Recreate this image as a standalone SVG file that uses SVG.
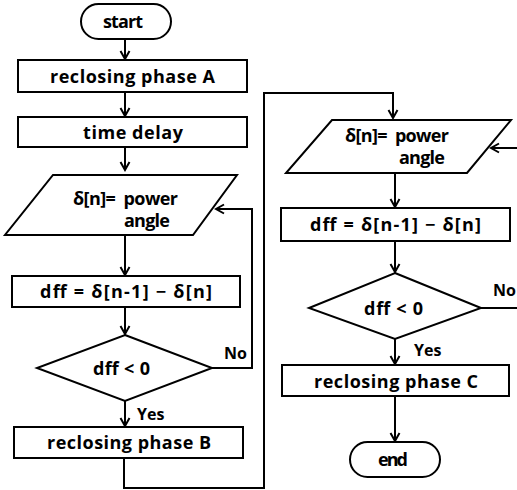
<svg xmlns="http://www.w3.org/2000/svg" width="517" height="490" viewBox="0 0 517 490">
<defs>
<marker id="arr" markerWidth="12" markerHeight="12" refX="10" refY="6" orient="auto" markerUnits="userSpaceOnUse">
<path d="M2,1.5 L10,6 L2,10.5" fill="none" stroke="#000" stroke-width="2"/>
</marker>
</defs>
<style>
.s{fill:#fff;stroke:#000;stroke-width:2}
.t{font-family:"Open Sans","Noto Sans",sans-serif;font-weight:bold;font-size:18px;fill:#000;dominant-baseline:central}
.l{font-family:"Open Sans","Noto Sans",sans-serif;font-weight:bold;font-size:16px;fill:#000;dominant-baseline:central}
.c{fill:none;stroke:#000;stroke-width:2}
</style>
<rect width="517" height="490" fill="#fff"/>
<g id="start"><rect class="s" x="81" y="4" width="90" height="35" rx="17.5"/><text class="t" x="103" y="21" textLength="40" lengthAdjust="spacing">start</text></g>
<g id="phaseA"><rect class="s" x="18" y="60" width="229" height="32"/><text class="t" x="50" y="76" textLength="165" lengthAdjust="spacing">reclosing phase A</text></g>
<g id="delay"><rect class="s" x="18" y="117" width="229" height="30"/><text class="t" x="83" y="132" textLength="100" lengthAdjust="spacing">time delay</text></g>
<g id="input1"><polygon class="s" points="53,175 237,175 193,235 5,235"/><text class="t" x="73" y="198" textLength="105" lengthAdjust="spacing" xml:space="preserve">δ[n]=  power</text><text class="t" x="124" y="220" textLength="46" lengthAdjust="spacing">angle</text></g>
<g id="dff1"><rect class="s" x="12" y="276" width="228" height="31"/><text class="t" x="40" y="291" textLength="172" lengthAdjust="spacing">dff = δ[n-1] − δ[n]</text></g>
<g id="dec1"><polygon class="s" points="125,335 212,368 125,401 37,368"/><text class="t" x="93" y="368" textLength="57" lengthAdjust="spacing" xml:space="preserve">dff &lt; 0</text></g>
<g id="phaseB"><rect class="s" x="14" y="427" width="229" height="31"/><text class="t" x="47" y="442" textLength="164" lengthAdjust="spacing">reclosing phase B</text></g>
<g id="input2"><polygon class="s" points="332,120 511,120 467,173 286,173"/><text class="t" x="345" y="135" textLength="104" lengthAdjust="spacing" xml:space="preserve">δ[n]=  power</text><text class="t" x="399" y="157" textLength="46" lengthAdjust="spacing">angle</text></g>
<g id="dff2"><rect class="s" x="281" y="208" width="229" height="33"/><text class="t" x="310" y="224" textLength="171" lengthAdjust="spacing">dff = δ[n-1] − δ[n]</text></g>
<g id="dec2"><polygon class="s" points="395,273 481,308 395,339 309,308"/><text class="t" x="364" y="308" textLength="59" lengthAdjust="spacing" xml:space="preserve">dff &lt; 0</text></g>
<g id="phaseC"><rect class="s" x="282" y="365" width="227" height="31"/><text class="t" x="314" y="381" textLength="164" lengthAdjust="spacing">reclosing phase C</text></g>
<g id="end"><rect class="s" x="350" y="442" width="90" height="35" rx="17.5"/><text class="t" x="378" y="459" textLength="30" lengthAdjust="spacing">end</text></g>
<g id="connectors">
<line class="c" x1="125" y1="39" x2="125" y2="59" marker-end="url(#arr)"/>
<line class="c" x1="125" y1="92" x2="125" y2="116" marker-end="url(#arr)"/>
<line class="c" x1="125" y1="147" x2="125" y2="170" marker-end="url(#arr)"/>
<line class="c" x1="125" y1="235" x2="125" y2="275" marker-end="url(#arr)"/>
<line class="c" x1="125" y1="307" x2="125" y2="334" marker-end="url(#arr)"/>
<line class="c" x1="125" y1="401" x2="125" y2="426" marker-end="url(#arr)"/>
<polyline class="c" points="212,368 252,368 252,209 216,209" marker-end="url(#arr)"/>
<polyline class="c" points="124,458 124,488 264,488 264,93 393,93 393,118" marker-end="url(#arr)"/>
<polyline class="c" points="517,148 491,148" marker-end="url(#arr)"/>
<line class="c" x1="395" y1="173" x2="395" y2="207" marker-end="url(#arr)"/>
<line class="c" x1="395" y1="241" x2="395" y2="272" marker-end="url(#arr)"/>
<line class="c" x1="481" y1="308" x2="517" y2="308"/>
<line class="c" x1="395" y1="339" x2="395" y2="364" marker-end="url(#arr)"/>
<line class="c" x1="395" y1="396" x2="395" y2="441" marker-end="url(#arr)"/>
<text class="l" x="224" y="353">No</text>
<text class="l" x="137" y="414">Yes</text>
<text class="l" x="493" y="290">No</text>
<text class="l" x="414" y="350">Yes</text>
</g>
</svg>
